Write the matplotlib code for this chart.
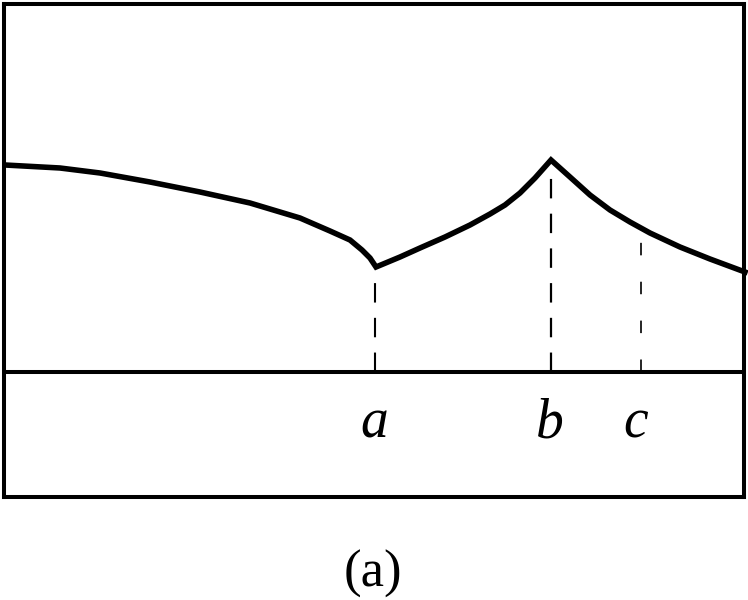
import matplotlib
matplotlib.use("Agg")
import matplotlib.pyplot as plt

plt.rcParams['lines.scale_dashes'] = False

# Curve (x position, height above the axis)
left_x = [5, 60, 100, 150, 200, 250, 300, 330, 350, 362, 370, 376]
left_y = [207, 204, 199, 190, 180, 169, 154, 141, 132, 122, 114, 105]
mid_x = [376, 400, 420, 445, 470, 490, 505, 520, 535, 551]
mid_y = [105, 115, 124, 135, 147, 158, 167, 179, 194, 212]
right_x = [551, 570, 590, 610, 630, 650, 680, 710, 745]
right_y = [212, 195, 177, 162, 150, 139, 125, 113, 100]

marks = ['a', 'b', 'c']
mark_x = [375, 551, 641]
mark_top = [105, 212, 140]

fig = plt.figure(figsize=(7.48, 6.0), dpi=100)
ax = fig.add_axes([4/748, 103/600, 740/748, 493/600])
ax.set_xlim(4, 744)
ax.set_ylim(-125, 368)
ax.set_xticks([])
ax.set_yticks([])
for s in ax.spines.values():
    s.set_linewidth(2.9)
    s.set_color('black')

ax.axhline(0, color='black', lw=2.9)
xs = left_x + mid_x[1:] + right_x[1:]
ys = left_y + mid_y[1:] + right_y[1:]
ax.plot(xs, ys, color='black', lw=4.0, solid_joinstyle='miter', clip_on=False)

# dashed lines at a and b, dotted at c
ax.plot([mark_x[0]] * 2, [0, mark_top[0] - 6], color='black', lw=1.5,
        linestyle=(0, (14, 11)))
ax.plot([mark_x[1]] * 2, [0, mark_top[1]], color='black', lw=1.6,
        linestyle=(0, (14, 11)))
ax.plot([mark_x[2]] * 2, [0, mark_top[2] - 8], color='black', lw=1.2,
        linestyle=(0, (9, 19)))

for m, x in zip(marks, [374, 550, 636]):
    ax.text(x, -65, m, ha='center', va='baseline', fontsize=40,
            family='Liberation Serif', style='italic')

fig.text(373/748, 1 - 587/600, '(a)', ha='center', va='baseline',
         fontsize=38, family='Liberation Serif')

fig.savefig('out.png', dpi=100, facecolor='white')
